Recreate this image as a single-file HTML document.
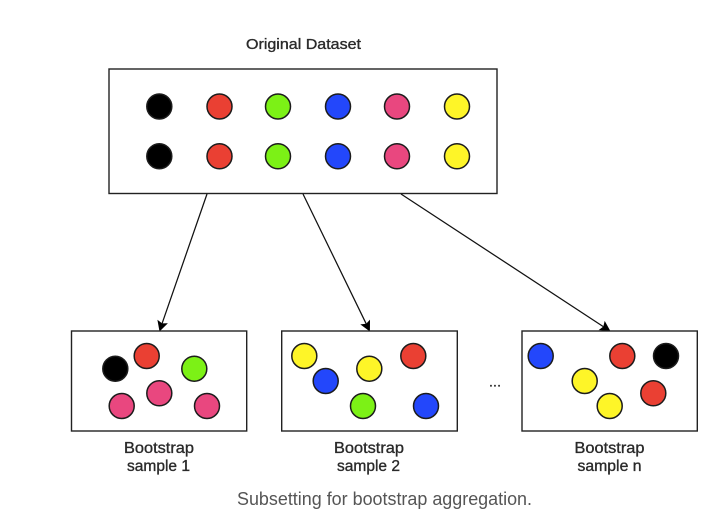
<!DOCTYPE html>
<html><head><meta charset="utf-8"><style>
html,body{margin:0;padding:0;background:#fff}
svg{display:block}
.l{font-family:"Liberation Sans",sans-serif;font-size:15.5px;fill:#2a2a2a;stroke:#2a2a2a;stroke-width:.35;text-anchor:middle}
.c{font-family:"Liberation Sans",sans-serif;font-size:18px;fill:#555}
circle{stroke:#1c1c1c;stroke-width:1.5}
.k{fill:#000}.r{fill:#ea4033}.g{fill:#7cf116}.b{fill:#2347fb}.p{fill:#e9477f}.y{fill:#fef528}
rect{fill:#fff;stroke:#222;stroke-width:1.4}
line{stroke:#111;stroke-width:1.25}
polygon{fill:#000}
.d{filter:blur(.35px)}
</style></head><body>
<svg width="719" height="520" viewBox="0 0 719 520" xmlns="http://www.w3.org/2000/svg">
<g class="d">
<text class="l" x="303.5" y="49" textLength="115" lengthAdjust="spacingAndGlyphs" style="font-size:15px">Original Dataset</text>
<rect x="109" y="69" width="388" height="124.5"/>
<circle class="k" cx="159.3" cy="106.5" r="12.5"/><circle class="r" cx="219.5" cy="106.5" r="12.5"/><circle class="g" cx="278" cy="106.5" r="12.5"/><circle class="b" cx="338" cy="106.5" r="12.5"/><circle class="p" cx="397" cy="106.5" r="12.5"/><circle class="y" cx="457" cy="106.5" r="12.5"/>
<circle class="k" cx="159.3" cy="156.3" r="12.5"/><circle class="r" cx="219.5" cy="156.3" r="12.5"/><circle class="g" cx="278" cy="156.3" r="12.5"/><circle class="b" cx="338" cy="156.3" r="12.5"/><circle class="p" cx="397" cy="156.3" r="12.5"/><circle class="y" cx="457" cy="156.3" r="12.5"/>
<line x1="207" y1="194" x2="162.1" y2="323.4"/>
<polygon points="159.5,331.5 157.4,319.7 162.1,323.4 167.9,323.3"/>
<line x1="303" y1="194" x2="366.2" y2="323.8"/>
<polygon points="369.9,331.5 360.3,324.4 366.2,323.8 370,319.6"/>
<line x1="401" y1="194" x2="603.3" y2="326.6"/>
<polygon points="610.5,331.3 598.6,330.1 603.3,326.6 604.7,320.9"/>
<rect x="71.5" y="331" width="175.2" height="100"/>
<circle class="k" cx="115.3" cy="368.7" r="12.5"/><circle class="r" cx="146.7" cy="356" r="12.5"/><circle class="g" cx="194.3" cy="368.7" r="12.5"/><circle class="p" cx="159.3" cy="393.3" r="12.5"/><circle class="p" cx="121.7" cy="406" r="12.5"/><circle class="p" cx="207" cy="406" r="12.5"/>
<rect x="281.7" y="331" width="175.6" height="100"/>
<circle class="y" cx="304.3" cy="356" r="12.5"/><circle class="b" cx="325.7" cy="381" r="12.5"/><circle class="y" cx="369.3" cy="368.7" r="12.5"/><circle class="g" cx="363" cy="406" r="12.5"/><circle class="r" cx="413.3" cy="356" r="12.5"/><circle class="b" cx="426" cy="406" r="12.5"/>
<rect x="522" y="331" width="175.3" height="100"/>
<circle class="b" cx="540.7" cy="356" r="12.5"/><circle class="r" cx="622.3" cy="356" r="12.5"/><circle class="k" cx="666" cy="356" r="12.5"/><circle class="y" cx="584.7" cy="381" r="12.5"/><circle class="y" cx="609.7" cy="406" r="12.5"/><circle class="r" cx="653.3" cy="393.3" r="12.5"/>
<text class="l" x="495" y="386.5" textLength="12" style="font-size:14px">...</text>
<text class="l" x="159" y="453" textLength="70" lengthAdjust="spacingAndGlyphs">Bootstrap</text><text class="l" x="158.5" y="471" textLength="63" lengthAdjust="spacingAndGlyphs">sample 1</text>
<text class="l" x="369" y="453" textLength="70" lengthAdjust="spacingAndGlyphs">Bootstrap</text><text class="l" x="368.5" y="471" textLength="63" lengthAdjust="spacingAndGlyphs">sample 2</text>
<text class="l" x="609.5" y="453" textLength="70" lengthAdjust="spacingAndGlyphs">Bootstrap</text><text class="l" x="609.5" y="471" textLength="64" lengthAdjust="spacingAndGlyphs">sample n</text>
</g>
<text class="c" x="237" y="505" textLength="295" lengthAdjust="spacingAndGlyphs">Subsetting for bootstrap aggregation.</text>
</svg>
</body></html>
